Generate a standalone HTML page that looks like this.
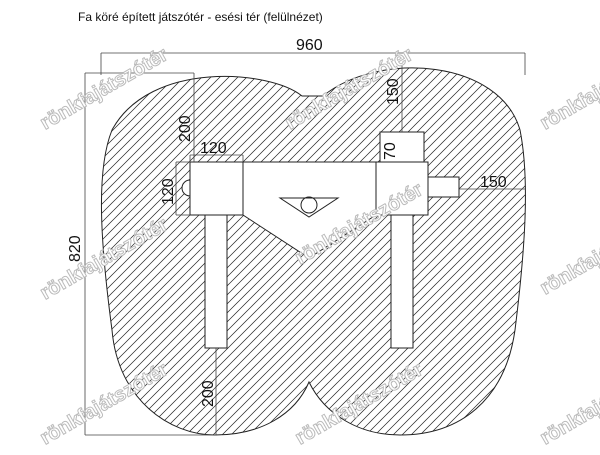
<!DOCTYPE html>
<html><head><style>
body{margin:0;background:#fff;width:600px;height:450px;overflow:hidden;font-family:"Liberation Sans",sans-serif}
</style></head><body>
<svg width="600" height="450" viewBox="0 0 600 450" xmlns="http://www.w3.org/2000/svg" font-family="Liberation Sans, sans-serif">
<defs>
<pattern id="h" patternUnits="userSpaceOnUse" width="9" height="9">
<path d="M0,9 L9,0 M-2,2 L2,-2 M7,11 L11,7" stroke="#222" stroke-width="0.7"/>
</pattern>
</defs>
<text x="78" y="21" font-size="12" fill="#111">Fa köré épített játszótér - esési tér (felülnézet)</text>
<path d="M302,96 C270,70 150,60 112,130 C96,170 100,240 112,330 C118,400 170,435 215,435 C260,435 295,415 309,382 C325,415 360,435 400,435 C460,435 505,400 515,330 C525,250 530,180 520,130 C500,60 380,50 323,96 Z" fill="url(#h)" stroke="#222" stroke-width="1"/>
<g fill="#fff" stroke="#222" stroke-width="1">
<rect x="205" y="215" width="22" height="133"/>
<rect x="391" y="215" width="22" height="133"/>
<rect x="380" y="132" width="44" height="30"/>
<rect x="428" y="177" width="31" height="20"/>
<path d="M190,196 A8,8 0 0 1 190,180 Z"/>
<path d="M243,162 L376,162 L376,215 L309,258 L243,215 Z"/>
<rect x="190" y="162" width="53" height="53"/>
<rect x="376" y="162" width="52" height="53"/>
<path d="M280,198 L338,198 L309,217 Z" fill="none"/>
<circle cx="309" cy="205" r="8" fill="none"/>
</g>
<g stroke="#444" stroke-width="0.8" fill="none">
<line x1="101" y1="53" x2="525" y2="53"/>
<line x1="101" y1="53" x2="101" y2="75"/>
<line x1="525" y1="53" x2="525" y2="75"/>
<line x1="85" y1="73" x2="194" y2="73"/>
<line x1="85" y1="73" x2="85" y2="435"/>
<line x1="85" y1="435" x2="216" y2="435"/>
<line x1="194" y1="73" x2="194" y2="162"/>
<line x1="402" y1="65" x2="402" y2="132"/>
<line x1="190" y1="155" x2="243" y2="155"/>
<line x1="190" y1="155" x2="190" y2="162"/>
<line x1="243" y1="155" x2="243" y2="162"/>
<line x1="176" y1="162" x2="176" y2="215"/>
<line x1="176" y1="162" x2="190" y2="162"/>
<line x1="176" y1="215" x2="190" y2="215"/>
<line x1="459" y1="189" x2="525" y2="189"/>
<line x1="216" y1="348" x2="216" y2="435"/>
</g>
<g font-size="16" fill="#111">
<text x="296" y="50">960</text>
<text x="480" y="187">150</text>
<text x="200" y="153">120</text>
<text transform="translate(80,262) rotate(-90)">820</text>
<text transform="translate(190,142) rotate(-90)">200</text>
<text transform="translate(398,105) rotate(-90)">150</text>
<text transform="translate(173,205) rotate(-90)">120</text>
<text transform="translate(395,160) rotate(-90)">70</text>
<text transform="translate(213,407) rotate(-90)">200</text>
</g>
<g font-size="20" font-weight="bold" fill="#fff" stroke="#bbb" stroke-width="1">
<text transform="translate(45,130) rotate(-30)">rönkfajátszótér</text>
<text transform="translate(290,130) rotate(-30)">rönkfajátszótér</text>
<text transform="translate(545,130) rotate(-30)">rönkfajátszótér</text>
<text transform="translate(45,300) rotate(-30)">rönkfajátszótér</text>
<text transform="translate(300,265) rotate(-30)">rönkfajátszótér</text>
<text transform="translate(545,295) rotate(-30)">rönkfajátszótér</text>
<text transform="translate(45,445) rotate(-30)">rönkfajátszótér</text>
<text transform="translate(300,445) rotate(-30)">rönkfajátszótér</text>
<text transform="translate(545,445) rotate(-30)">rönkfajátszótér</text>
</g>
</svg>
</body></html>
